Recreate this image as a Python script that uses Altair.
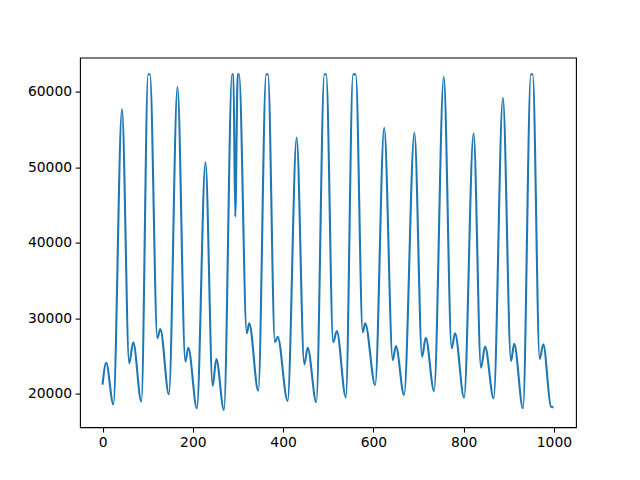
import altair as alt
import pandas as pd

# Key points (x index, value)
xs = [0, 8, 24, 43, 59, 68, 86, 101, 105, 121.5, 128, 147, 166, 183.5, 190, 209, 228, 244, 252, 269,
      287, 290, 294, 299.5, 302.5, 319.5, 325, 345, 362.5, 366.5, 382, 388, 410, 430, 447, 454.5, 473.5,
      491.5, 495.5, 511, 519, 539, 555, 561, 576.5, 582, 604, 624, 643, 650, 668, 691, 708, 716, 734.5,
      756, 773.5, 781, 801, 822, 838.5, 847.5, 866.5, 887, 905, 912, 931.5, 949, 953, 968.5, 976.5, 993.5, 999]
ys = [21200, 24100, 18600, 57700, 24040, 26820, 18950, 62300, 62300, 27350, 28580, 19930, 60670, 24250, 26100, 18080, 50660, 21030, 24600, 17850,
      62300, 62300, 43450, 62300, 62300, 28010, 29330, 20370, 62300, 62300, 26820, 27560, 19040, 53920, 23900, 26100, 18870,
      62300, 62300, 26820, 28310, 19530, 62300, 62300, 28140, 29330, 21160, 55240, 24470, 26330, 19840, 54580, 24910, 27430, 20370,
      61990, 26020, 28010, 19480, 54500, 23450, 26240, 19400, 59210, 24340, 26630, 18080, 62300, 62300, 24600, 26550, 18290, 18200]

x_ticks = [0, 200, 400, 600, 800, 1000]
y_ticks = [20000, 30000, 40000, 50000, 60000]

df = pd.DataFrame({"x": xs, "y": ys})

axis_common = dict(
    grid=False, domain=False, tickColor="black", tickWidth=1.1, tickSize=4.9,
    labelColor="black", labelFont="DejaVu Sans", labelFontSize=13.9, labelPadding=3.5,
    title=None,
)

chart = alt.Chart(df).mark_line(
    color="#1f77b4", strokeWidth=2.1, interpolate="monotone", clip=True
).encode(
    x=alt.X("x:Q", scale=alt.Scale(domain=[-49.95, 1048.95], nice=False, zero=False),
            axis=alt.Axis(values=x_ticks, format="d", **axis_common)),
    y=alt.Y("y:Q", scale=alt.Scale(domain=[15575, 64525], nice=False, zero=False),
            axis=alt.Axis(values=y_ticks, format="d", **axis_common)),
).properties(
    width=496, height=369.6,
    autosize=alt.AutoSizeParams(type="none"),
    padding={"left": 72, "top": 49.6, "right": 56, "bottom": 45},
).configure(
    background="white"
).configure_view(
    stroke="black", strokeWidth=1.1
)

chart.save("out.html", embed_options={"renderer": "svg", "actions": False})
